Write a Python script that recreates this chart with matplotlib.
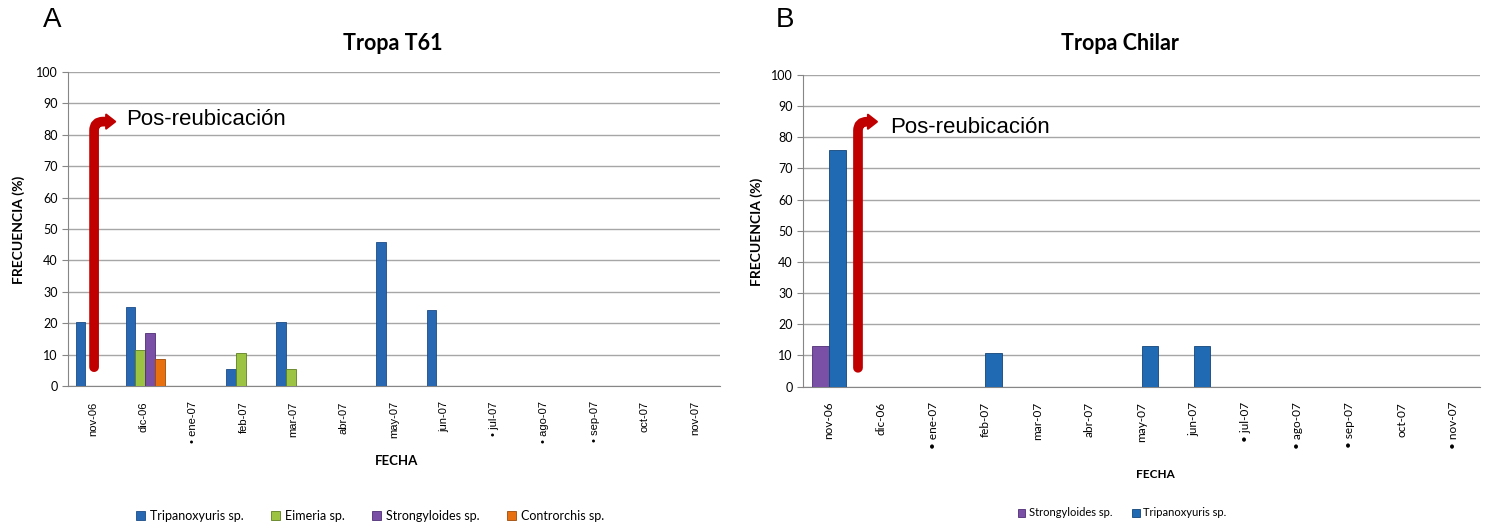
import numpy as np
import matplotlib
matplotlib.use("Agg")
import matplotlib.pyplot as plt
from matplotlib.patches import Patch, PathPatch, Polygon
from matplotlib.path import Path
from matplotlib.transforms import IdentityTransform

months_a = ["nov-06", "dic-06", "• ene-07", "feb-07", "mar-07", "abr-07", "may-07",
            "jun-07", "• jul-07", "• ago-07", "• sep-07", "oct-07", "nov-07"]
months_b = ["nov-06", "dic-06", "• ene-07", "feb-07", "mar-07", "abr-07", "may-07",
            "jun-07", "• jul-07", "• ago-07", "• sep-07", "oct-07", "• nov-07"]

# Tropa T61
a_tripanoxyuris = [20.3, 25.2, 0, 5.4, 20.3, 0, 45.9, 24.2, 0, 0, 0, 0, 0]
a_eimeria       = [0, 11.5, 0, 10.5, 5.4, 0, 0, 0, 0, 0, 0, 0, 0]
a_strongyloides = [0, 17.0, 0, 0, 0, 0, 0, 0, 0, 0, 0, 0, 0]
a_controrchis   = [0, 8.6, 0, 0, 0, 0, 0, 0, 0, 0, 0, 0, 0]

# Tropa Chilar
b_strongyloides = [13.0, 0, 0, 0, 0, 0, 0, 0, 0, 0, 0, 0, 0]
b_tripanoxyuris = [76.0, 0, 0, 10.7, 0, 0, 13.0, 13.0, 0, 0, 0, 0, 0]

names_a = ["Tripanoxyuris sp.", "Eimeria sp.", "Strongyloides sp.", "Controrchis sp."]
names_b = ["Strongyloides sp.", "Tripanoxyuris sp."]

c_blue = "#2867b2"
c_green = "#9cc341"
c_purple = "#7a4fa6"
c_orange = "#e8700f"
c_blue_b = "#1f6ab2"

fig = plt.figure(figsize=(14.87, 5.27), dpi=100)
axA = fig.add_axes([68/1487, 1-386/527, (720-68)/1487, (386-72)/527])
axB = fig.add_axes([803/1487, 1-386.5/527, (1480-803)/1487, (386.5-75)/527])

grid_c = "#a6a6a6"
spine_c = "#868686"

def style(ax, labels, family, size):
    ax.set_xlim(-0.5, 12.5)
    ax.set_ylim(0, 100)
    ax.set_yticks(np.arange(0, 101, 10))
    ax.yaxis.grid(True, color=grid_c, lw=1)
    ax.set_axisbelow(True)
    for s in ["top", "right"]:
        ax.spines[s].set_visible(False)
    ax.spines["left"].set_color(spine_c)
    ax.spines["bottom"].set_color(spine_c)
    ax.tick_params(axis="y", colors=spine_c, length=4, labelcolor="black", labelsize=9)
    ax.set_xticks(np.arange(13))
    ax.set_xticklabels(labels, rotation=90, fontsize=size, family=family)
    ax.tick_params(axis="x", length=0, pad=11)
    for t in ax.get_yticklabels():
        t.set_fontfamily("Lato")

x = np.arange(13)
w = 0.195
series_a = [a_tripanoxyuris, a_eimeria, a_strongyloides, a_controrchis]
cols_a = [c_blue, c_green, c_purple, c_orange]
edges_a = ["#1b4c86", "#5d7f22", "#4f2f75", "#9e4a08"]
for i, (vals, c, e) in enumerate(zip(series_a, cols_a, edges_a)):
    axA.bar(x + (i - 1.5) * w + 0.04, np.array(vals), width=w, color=c, edgecolor=e, lw=0.6, zorder=3)
style(axA, months_a, "Liberation Sans", 8)

wb = 0.32
series_b = [b_strongyloides, b_tripanoxyuris]
cols_b = [c_purple, c_blue_b]
edges_b = ["#4f2f75", "#134679"]
for i, (vals, c, e) in enumerate(zip(series_b, cols_b, edges_b)):
    axB.bar(x + (i - 0.5) * wb, np.array(vals), width=wb, color=c, edgecolor=e, lw=0.6, zorder=3)
style(axB, months_b, "Lato", 8.5)

red = "#c00000"
def arrow(ax, x0, y0, x_tip, y_top, r=9, head_len=9, head_half=7, lw=7):
    """Bent arrow drawn in display pixels, anchored at data points."""
    bx, by = ax.transData.transform((x0, y0))
    tx, ty = ax.transData.transform((x_tip, y_top))
    hb = tx - head_len
    verts = [(bx, by), (bx, ty - r), (bx, ty), (bx + r, ty), (hb + 1, ty)]
    codes = [Path.MOVETO, Path.LINETO, Path.CURVE3, Path.CURVE3, Path.LINETO]
    shaft = PathPatch(Path(verts, codes), transform=IdentityTransform(), fill=False,
                      edgecolor=red, lw=lw, capstyle="round", joinstyle="round", zorder=5)
    fig.add_artist(shaft)
    head = Polygon([(hb, ty + head_half), (tx, ty), (hb, ty - head_half)], closed=True,
                   transform=IdentityTransform(), facecolor=red, edgecolor=red, lw=1.5,
                   joinstyle="round", zorder=5)
    fig.add_artist(head)

arrow(axA, 0.02, 6, 0.44, 84.2)
axA.text(0.66, 85, "Pos-reubicación", fontsize=16, family="Liberation Sans", va="center", ha="left")
arrow(axB, 0.556, 6, 0.92, 85)
axB.text(1.17, 83, "Pos-reubicación", fontsize=16, family="Liberation Sans", va="center", ha="left")

fig.text(52/1487, 1-20/527, "A", fontsize=20, family="Liberation Sans", ha="center", va="center")
fig.text(785/1487, 1-20/527, "B", fontsize=20, family="Liberation Sans", ha="center", va="center")
fig.text(393/1487, 1-43/527, "Tropa T61", fontsize=15.5, weight="bold", family="Lato", ha="center", va="center")
fig.text(1120/1487, 1-43/527, "Tropa Chilar", fontsize=15.5, weight="bold", family="Lato", ha="center", va="center")

fig.text(19/1487, 1-230/527, "FRECUENCIA (%)", fontsize=10, weight="bold", family="Lato",
         rotation=90, ha="center", va="center")
fig.text(757/1487, 1-232/527, "FRECUENCIA (%)", fontsize=10, weight="bold", family="Lato",
         rotation=90, ha="center", va="center")
fig.text(397/1487, 1-461/527, "FECHA", fontsize=9.5, weight="bold", family="Lato", ha="center", va="center")
fig.text(1155/1487, 1-474/527, "FECHA", fontsize=8.5, weight="bold", family="Lato", ha="center", va="center")

handles_a = [Patch(facecolor=c, edgecolor=e, lw=0.6) for c, e in zip(cols_a, edges_a)]
fig.legend(handles_a, names_a, loc="center", bbox_to_anchor=(370/1487, 1-516/527), ncol=4,
           frameon=False, prop={"family": "Lato", "size": 9}, handlelength=0.7, handleheight=0.7,
           handletextpad=0.4, columnspacing=2.2)
handles_b = [Patch(facecolor=c, edgecolor=e, lw=0.6) for c, e in zip(cols_b, edges_b)]
fig.legend(handles_b, names_b, loc="center", bbox_to_anchor=(1122/1487, 1-513/527), ncol=2,
           frameon=False, prop={"family": "Lato", "size": 8}, handlelength=0.7, handleheight=0.7,
           handletextpad=0.3, columnspacing=1.8)

fig.savefig("out.png", dpi=100)
